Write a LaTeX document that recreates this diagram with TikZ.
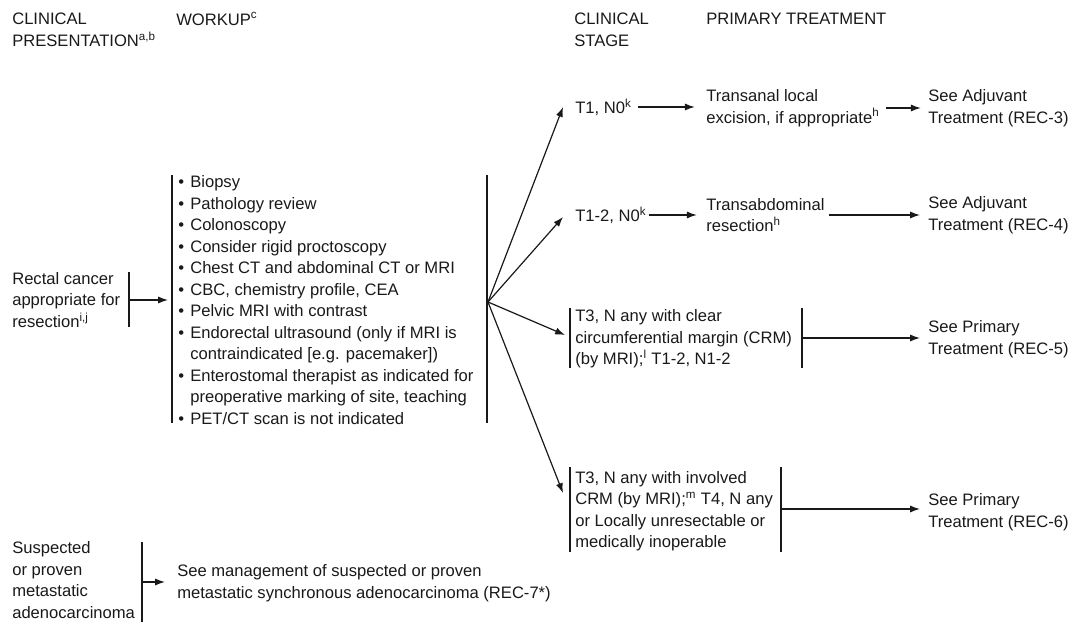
\documentclass[tikz,border=0pt]{standalone}
\usepackage{fontspec}
\setmainfont{Liberation Sans}
\usetikzlibrary{arrows.meta,positioning}
\definecolor{ink}{rgb}{0.1,0.1,0.1}
\newcommand{\itm}{\makebox[0.3cm][l]{\textbullet}}
\newcommand{\cnt}{\hspace*{0.3cm}}

\begin{document}
\begin{tikzpicture}[x=0.025cm,y=-0.025cm,
  txt/.style={font=\fontsize{11.8}{15.3}\selectfont,text=ink,inner sep=0pt,anchor=west,align=left},
  bar/.style={draw=ink,line width=0.85pt},
  arr/.style={draw=ink,line width=0.85pt,-{Latex[length=7pt,width=5pt]}}]
  \useasboundingbox (0,0) rectangle (1078,622);

  % column heads
  \node[txt] (hpres)  at (12,30)  {CLINICAL\\PRESENTATION\textsuperscript{a,b}};
  \node[txt] (hwork)  at (176,19) {WORKUP\textsuperscript{c}};
  \node[txt] (hstage) at (574,30) {CLINICAL\\STAGE};
  \node[txt] (htreat) at (706,19) {PRIMARY TREATMENT};

  % presentation
  \node[txt] (rectal) at (12,300) {Rectal cancer\\appropriate for\\resection\textsuperscript{i,j}};
  \node[txt] (meta)   at (12,580) {Suspected\\or proven\\metastatic\\adenocarcinoma};

  % workup
  \node[txt] (workup) at (178,300) {\itm Biopsy\\
    \itm Pathology review\\
    \itm Colonoscopy\\
    \itm Consider rigid proctoscopy\\
    \itm Chest CT and abdominal CT or MRI\\
    \itm CBC, chemistry profile, CEA\\
    \itm Pelvic MRI with contrast\\
    \itm Endorectal ultrasound (only if MRI is\\
    \cnt contraindicated [e.g. pacemaker])\\
    \itm Enterostomal therapist as indicated for\\
    \cnt preoperative marking of site, teaching\\
    \itm PET/CT scan is not indicated};
  \node[txt] (seemeta) at (177,583) {See management of suspected or proven\\metastatic synchronous adenocarcinoma (REC-7*)};

  % clinical stage
  \node[txt] (t1)  at (575,107) {T1, N0\textsuperscript{k}};
  \node[txt] (t12) at (575,215) {T1-2, N0\textsuperscript{k}};
  \node[txt] (t3)  at (575,339) {T3, N any with clear\\circumferential margin (CRM)\\(by MRI);\textsuperscript{l} T1-2, N1-2};
  \node[txt] (t3i) at (575,511) {T3, N any with involved\\CRM (by MRI);\textsuperscript{m} T4, N any\\or Locally unresectable or\\medically inoperable};

  % primary treatment
  \node[txt] (local) at (706,108) {Transanal local\\excision, if appropriate\textsuperscript{h}};
  \node[txt] (abdo)  at (706,215) {Transabdominal\\resection\textsuperscript{h}};
  \node[txt] (rec3) at (928,108) {See Adjuvant\\Treatment (REC-3)};
  \node[txt] (rec4) at (928,215) {See Adjuvant\\Treatment (REC-4)};
  \node[txt] (rec5) at (928,339) {See Primary\\Treatment (REC-5)};
  \node[txt] (rec6) at (928,512) {See Primary\\Treatment (REC-6)};

  % bars
  \foreach \x/\a/\b in {129/272/327, 172/175/423, 487/175/423, 570/308/368,
                        802/308/368, 570/467/552, 781/467/552, 142/542/622}
    \draw[bar] (\x,\a) -- (\x,\b);

  % branch points
  \coordinate (fan)    at (488,302);
  \coordinate (rbar)   at (130,300);
  \coordinate (mbar)   at (143,582);
  \coordinate (t3bar)  at (803,338);
  \coordinate (t3ibar) at (782,509);

  \draw[arr,shorten >=0.25cm] (rbar) -- (rbar -| workup.west);
  \draw[arr,shorten >=0.3cm]  (mbar) -- (mbar -| seemeta.west);

  % fan to stages
  \draw[arr] (fan) -- ([xshift=-0.3cm]t1.west);
  \draw[arr] (fan) -- ([xshift=-0.3cm,yshift=-0.05cm]t12.west);
  \draw[arr] (fan) -- ([xshift=-0.25cm,yshift=0.1cm]t3.west);
  \draw[arr] (fan) -- ([xshift=-0.3cm,yshift=0.45cm]t3i.west);

  % stages to treatment
  \draw[arr,shorten <=0.15cm,shorten >=0.28cm] (t1.east) -- (t1.east -| local.west);
  \draw[arr,shorten <=0.05cm,shorten >=0.23cm] (t12.east) -- (t12.east -| abdo.west);
  \draw[arr,shorten <=0.15cm,shorten >=0.18cm] (local.east) -- (local.east -| rec3.west);
  \draw[arr,shorten <=0.1cm,shorten >=0.2cm]   (abdo.east) -- (abdo.east -| rec4.west);
  \draw[arr,shorten >=0.2cm] (t3bar) -- (t3bar -| rec5.west);
  \draw[arr,shorten >=0.2cm] (t3ibar) -- (t3ibar -| rec6.west);
\end{tikzpicture}
\end{document}
